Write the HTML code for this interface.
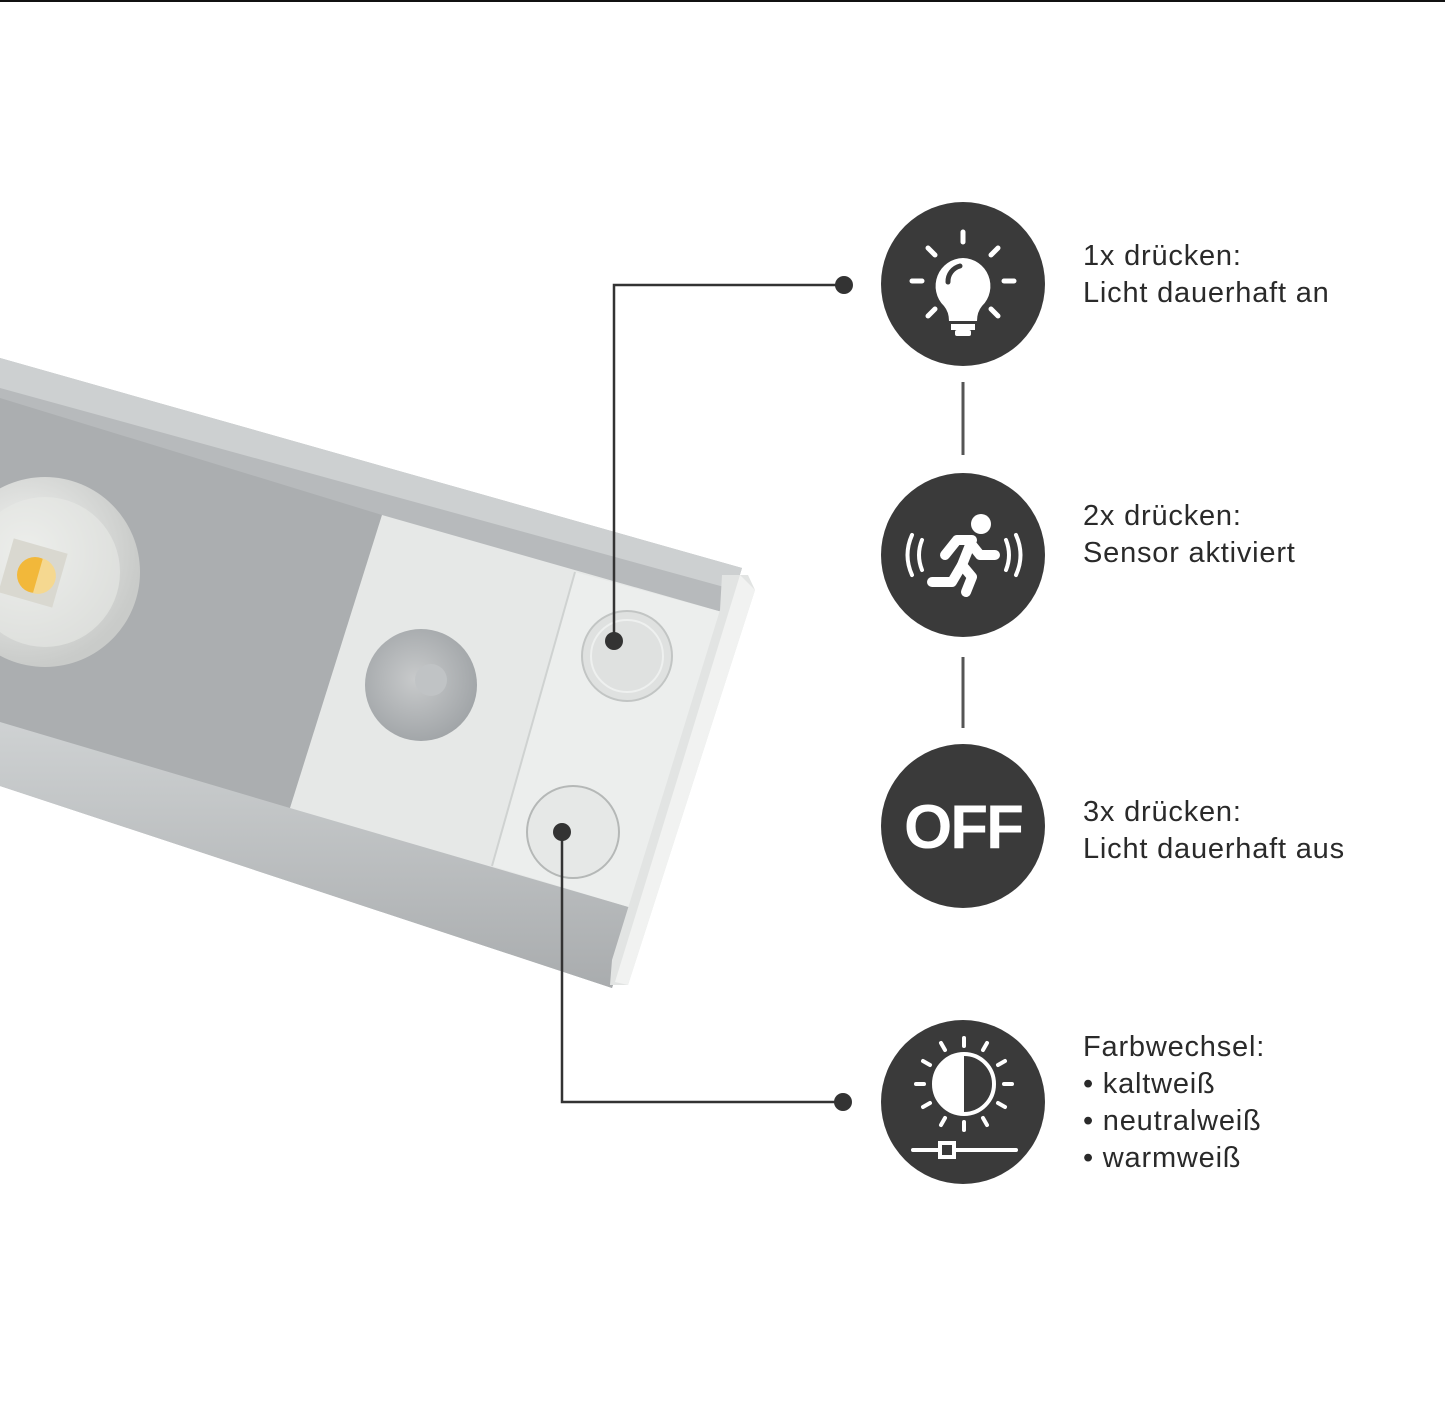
<!DOCTYPE html>
<html><head><meta charset="utf-8"><style>
html,body{margin:0;padding:0;background:#fff;}
svg{display:block;}
text{font-family:"Liberation Sans",sans-serif;}
</style></head><body>
<svg width="1445" height="1409" viewBox="0 0 1445 1409" xmlns="http://www.w3.org/2000/svg">
<rect width="1445" height="1409" fill="#fff"/>
<rect x="0" y="0" width="1445" height="2" fill="#111"/>
<defs>
<linearGradient id="rail" x1="0" y1="0" x2="0" y2="1"><stop offset="0" stop-color="#cfd2d3"/><stop offset="1" stop-color="#a9acae"/></linearGradient>
<radialGradient id="lens" cx="0.4" cy="0.4" r="0.6"><stop offset="0" stop-color="#f4f5f3"/><stop offset="1" stop-color="#c9cbc9"/></radialGradient>
<radialGradient id="pir" cx="0.45" cy="0.45" r="0.6"><stop offset="0" stop-color="#c8cacb"/><stop offset="1" stop-color="#9fa3a6"/></radialGradient>
</defs>
<polygon points="0,358 742,568 612,988 0,786" fill="#b7babc"/>
<polygon points="0,358 742,568 735,590 0,388" fill="#cdd0d1"/>
<polygon points="0,720 300,810 640,908 612,988 0,786" fill="url(#rail)"/>
<polygon points="0,398 382,515 290,808 0,722" fill="#abaeb0"/>
<polygon points="382,515 722,612 632,908 290,808" fill="#e6e8e7"/>
<polygon points="575,572 722,612 632,908 492,866" fill="#eceeed"/>
<line x1="575" y1="572" x2="492" y2="866" stroke="#cfd2d1" stroke-width="2"/>
<polygon points="722,575 748,575 755,590 628,985 610,985 612,960 720,610" fill="#e2e4e3"/>
<polygon points="740,575 755,590 628,985 615,982" fill="#f1f2f1"/>
<circle cx="45" cy="572" r="95" fill="url(#lens)"/>
<circle cx="45" cy="572" r="75" fill="#e8e9e6" opacity="0.6"/>
<rect x="5" y="545" width="56" height="56" fill="#d9d8d0" transform="rotate(16 33 573)"/>
<circle cx="35" cy="575" r="18" fill="#f2b83a"/>
<path d="M38,557 A18,18 0 0 1 38,593 Z" fill="#f5d890" transform="rotate(16 35 575)"/>
<circle cx="421" cy="685" r="56" fill="url(#pir)"/>
<circle cx="431" cy="680" r="16" fill="#c0c3c5"/>
<circle cx="627" cy="656" r="45" fill="#dfe1e0" stroke="#c2c5c4" stroke-width="2"/>
<circle cx="627" cy="656" r="36" fill="none" stroke="#eef0ef" stroke-width="2"/>
<circle cx="573" cy="832" r="46" fill="#e6e8e7" stroke="#b5b8b7" stroke-width="2"/>
<g stroke="#333" stroke-width="2.5" fill="none">
<polyline points="844,285 614,285 614,641"/>
<polyline points="562,832 562,1102 843,1102"/>
</g>
<g fill="#333">
<circle cx="844" cy="285" r="9"/><circle cx="614" cy="641" r="9"/>
<circle cx="562" cy="832" r="9"/><circle cx="843" cy="1102" r="9"/>
</g>
<line x1="963" y1="382" x2="963" y2="455" stroke="#555" stroke-width="3"/>
<line x1="963" y1="657" x2="963" y2="728" stroke="#555" stroke-width="3"/>
<g fill="#3a3a3a">
<circle cx="963" cy="284" r="82"/><circle cx="963" cy="555" r="82"/>
<circle cx="963" cy="826" r="82"/><circle cx="963" cy="1102" r="82"/>
</g>
<g stroke="#fff" stroke-width="5" stroke-linecap="round" fill="none">
<line x1="963" y1="232" x2="963" y2="242"/>
<line x1="928" y1="248" x2="935" y2="255"/><line x1="998" y1="248" x2="991" y2="255"/>
<line x1="912" y1="281" x2="922" y2="281"/><line x1="1004" y1="281" x2="1014" y2="281"/>
<line x1="928" y1="316" x2="935" y2="309"/><line x1="998" y1="316" x2="991" y2="309"/>
</g>
<path d="M963,258 a28,28 0 0 1 19,48 q-5,6 -5,15 h-28 q0,-9 -5,-15 a28,28 0 0 1 19,-48z" fill="#fff"/>
<rect x="951" y="324" width="24" height="6" fill="#fff"/><rect x="955" y="330" width="16" height="6" rx="2" fill="#fff"/>
<path d="M948,282 a16,16 0 0 1 12,-16" stroke="#3a3a3a" stroke-width="5" fill="none" stroke-linecap="round"/>
<g stroke="#fff" stroke-width="4" stroke-linecap="round" fill="none">
<path d="M912,535 q-9,20 0,40"/><path d="M922,540 q-6,15 0,30"/>
<path d="M1016,535 q9,20 0,40"/><path d="M1006,540 q6,15 0,30"/>
</g>
<circle cx="981" cy="524" r="10" fill="#fff"/>
<g stroke="#fff" stroke-width="10" stroke-linecap="round" fill="none" stroke-linejoin="round">
<path d="M945,555 l12,-15 l15,0 l-10,25 l10,12 l-6,15"/>
<path d="M962,565 l-10,17 l-20,0"/>
<path d="M972,545 l8,10 l15,0"/>
</g>
<text x="963" y="848" text-anchor="middle" fill="#fff" font-size="62" font-weight="bold" letter-spacing="-2">OFF</text>
<g stroke="#fff" stroke-width="4" stroke-linecap="round" fill="none">
<circle cx="964" cy="1084" r="30"/>
<line x1="964" y1="1038" x2="964" y2="1046"/><line x1="964" y1="1122" x2="964" y2="1130"/>
<line x1="916" y1="1084" x2="924" y2="1084"/><line x1="1004" y1="1084" x2="1012" y2="1084"/>
<line x1="941" y1="1043" x2="945" y2="1050"/><line x1="987" y1="1043" x2="983" y2="1050"/>
<line x1="941" y1="1125" x2="945" y2="1118"/><line x1="987" y1="1125" x2="983" y2="1118"/>
<line x1="923" y1="1061" x2="930" y2="1065"/><line x1="1005" y1="1061" x2="998" y2="1065"/>
<line x1="923" y1="1107" x2="930" y2="1103"/><line x1="1005" y1="1107" x2="998" y2="1103"/>
<line x1="913" y1="1150" x2="938" y2="1150"/><line x1="956" y1="1150" x2="1016" y2="1150"/>
<rect x="940" y="1143" width="14" height="14"/>
</g>
<path d="M964,1054 a30,30 0 0 0 0,60 z" fill="#fff"/>
<g fill="#2a2a2a" font-size="29" letter-spacing="0.8">
<text x="1083" y="265">1x drücken:</text>
<text x="1083" y="302">Licht dauerhaft an</text>
<text x="1083" y="525">2x drücken:</text>
<text x="1083" y="562">Sensor aktiviert</text>
<text x="1083" y="821">3x drücken:</text>
<text x="1083" y="858">Licht dauerhaft aus</text>
<text x="1083" y="1056">Farbwechsel:</text>
<text x="1083" y="1093">• kaltweiß</text>
<text x="1083" y="1130">• neutralweiß</text>
<text x="1083" y="1167">• warmweiß</text>
</g>
</svg>
</body></html>
